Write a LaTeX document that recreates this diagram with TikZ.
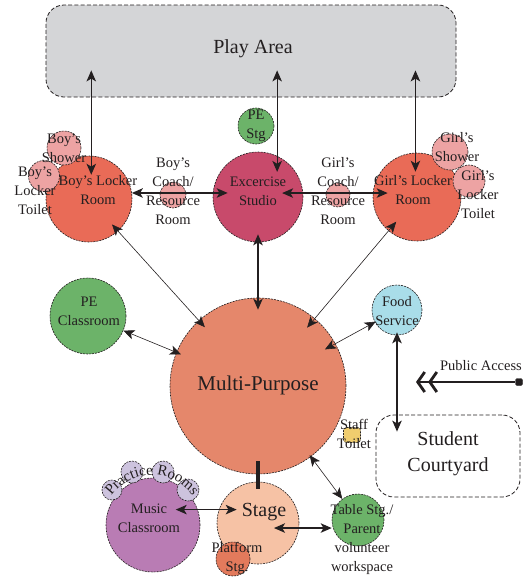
\documentclass[tikz,border=0pt]{standalone}
\usepackage{fontspec}
\setmainfont{Liberation Serif}
\usetikzlibrary{arrows.meta,decorations.text,calc}

\definecolor{ink}{HTML}{231F20}
\definecolor{playgrey}{HTML}{D4D5D7}
\definecolor{lockerred}{HTML}{E96B57}
\definecolor{wetpink}{HTML}{EDA3A3}
\definecolor{studiored}{HTML}{C84A6B}
\definecolor{multicoral}{HTML}{E5876B}
\definecolor{pegreen}{HTML}{6CB369}
\definecolor{foodblue}{HTML}{A9DDE9}
\definecolor{stagepeach}{HTML}{F6C2A5}
\definecolor{musicpurple}{HTML}{B97CB4}
\definecolor{practicelilac}{HTML}{CDC3DE}
\definecolor{platformred}{HTML}{E37A5C}
\definecolor{toiletyellow}{HTML}{F0CD6E}

\tikzset{
  room/.style={circle, draw=ink, line width=0.6pt, dash pattern=on 2pt off 1pt, inner sep=0pt},
  zone/.style={draw=ink, line width=0.8pt, dash pattern=on 4pt off 2.2pt, rounded corners=18pt, inner sep=0pt},
  lbl/.style={align=center, text=ink, inner sep=0pt, font=\fontsize{14.5}{19}\selectfont},
  biglbl/.style={align=center, text=ink, inner sep=0pt, font=\fontsize{20}{26}\selectfont},
  headtip/.tip={Stealth[length=11pt, width=9.5pt, inset=2.8pt]},
  mainlink/.style={draw=ink, line width=1.2pt, headtip-headtip},
  thinlink/.style={draw=ink, line width=0.6pt, headtip-headtip},
  chevrons/.tip={Straight Barb[length=7pt, width=20pt, line width=2.8pt, sep=2pt]
                 Straight Barb[length=7pt, width=20pt, line width=2.8pt]},
}

\begin{document}
\begin{tikzpicture}[x=1pt, y=-1pt]
\useasboundingbox (0,0) rectangle (528,579);

% outdoor and open zones
\node[zone, fill=playgrey, minimum width=410pt, minimum height=92pt] (play) at (251,51) {};
\node[biglbl] (playl) at (253,49) {Play Area};
\node[zone, minimum width=144pt, minimum height=82pt] (court) at (448,456) {};
\node[biglbl] (courtl) at (448,454) {Student\\Courtyard};

% main rooms
\node[room, fill=lockerred, minimum size=86pt] (blr) at (89,199) {};
\node[room, fill=studiored, minimum size=90pt] (ex) at (258,197) {};
\node[room, fill=lockerred, minimum size=88pt] (glr) at (417,197) {};
\node[room, fill=multicoral, minimum size=176pt] (multi) at (258,386) {};
\node[room, fill=pegreen, minimum size=76pt] (pecl) at (88,316) {};
\node[room, fill=foodblue, minimum size=50pt] (food) at (397,310) {};
\node[room, fill=musicpurple, minimum size=94pt] (music) at (153,525) {};
\node[room, fill=stagepeach, minimum size=82pt] (stage) at (258,523) {};
\node[room, fill=pegreen, minimum size=52pt] (table) at (358,520) {};

% support spaces
\node[room, fill=pegreen, minimum size=36pt] (pestg) at (256,126) {};
\node[room, fill=wetpink, minimum size=34pt] (bshower) at (64,148) {};
\node[room, fill=wetpink, minimum size=31pt] (btoilet) at (44,176) {};
\node[room, fill=wetpink, minimum size=26pt] (bcoach) at (173,195) {};
\node[room, fill=wetpink, minimum size=24pt] (gcoach) at (338,195) {};
\node[room, fill=wetpink, minimum size=36pt] (gshower) at (450,152) {};
\node[room, fill=wetpink, minimum size=32pt] (gtoilet) at (469,181) {};
\node[room, fill=practicelilac, minimum size=20pt] (prac1) at (112,490) {};
\node[room, fill=practicelilac, minimum size=22pt] (prac2) at (132,472) {};
\node[room, fill=practicelilac, minimum size=22pt] (prac3) at (163,472) {};
\node[room, fill=practicelilac, minimum size=22pt] (prac4) at (188,490) {};
\node[room, fill=platformred, minimum size=34pt] (platform) at (233,559) {};
\node[draw=ink, line width=0.6pt, dash pattern=on 2pt off 1pt, fill=toiletyellow,
      rounded corners=3pt, minimum width=17pt, minimum height=15pt, inner sep=0pt] (staff) at (352,435) {};

% connectors
\draw[mainlink, shorten <=-19pt, shorten >=-27pt] (blr.87) -- (blr.87 |- play.south);
\draw[mainlink, shorten <=-16pt, shorten >=-27pt] (ex.65) -- (ex.65 |- play.south);
\draw[mainlink, shorten <=-19pt, shorten >=-27pt] (glr.92) -- (glr.92 |- play.south);
\draw[mainlink, shorten >=-15pt] (blr.8) -- (blr.8 -| ex.west);
\draw[mainlink, shorten <=-21pt, shorten >=-15pt] (ex.5) -- (ex.5 -| glr.west);
\draw[mainlink, shorten <=-8pt, shorten >=-12pt] (ex.south) -- (multi.north);
\draw[thinlink, shorten <=-9pt, shorten >=-9pt] (blr) -- (multi);
\draw[thinlink, shorten <=-12pt, shorten >=-12pt] (glr) -- (multi);
\draw[thinlink, shorten >=-5pt] (pecl) -- (multi);
\draw[thinlink, shorten <=-1pt, shorten >=-12pt] (food) -- (multi);
\draw[thinlink, shorten <=-2pt] (multi) -- (table);
\draw[mainlink, shorten <=-25pt] (stage.-7) -- (stage.-7 -| table.west);
\draw[mainlink, shorten <=-22pt, shorten >=-20pt] (music.19) -- (music.19 -| stage.west);
\draw[mainlink, shorten <=-3pt, shorten >=-17pt] (food.south) -- (food.south |- court.north);
\draw[ink, line width=4pt, shorten <=-13pt, shorten >=-7pt] (multi.south) -- (stage.north);

% public access
\node[draw=ink, fill=ink, rounded corners=1.5pt, minimum size=7pt, inner sep=0pt] (pubdot) at (519,382) {};
\coordinate (pubend) at (416,382);
\draw[ink, line width=1.2pt, -chevrons] (pubdot) -- (pubend);
\node[lbl] (publ) at (481,366) {Public Access};

% labels
\node[lbl] (bshowerl) at (64,148) {Boy’s\\Shower};
\node[lbl] (btoiletl) at (35,191) {Boy’s\\Locker\\Toilet};
\node[lbl] (blrl) at (98,190) {Boy’s Locker\\Room};
\node[lbl] (bcoachl) at (173,191) {Boy’s\\Coach/\\Resource\\Room};
\node[lbl] (exl) at (258,191) {Excercise\\Studio};
\node[lbl] (pestgl) at (256,126) {PE\\Stg};
\node[lbl] (gcoachl) at (338,191) {Girl’s\\Coach/\\Resource\\Room};
\node[lbl] (glrl) at (413,190) {Girl’s Locker\\Room};
\node[lbl] (gshowerl) at (457,147) {Girl’s\\Shower};
\node[lbl] (gtoiletl) at (478,195) {Girl’s\\Locker\\Toilet};
\node[lbl] (pecll) at (89,311) {PE\\Classroom};
\node[lbl] (foodl) at (397,311) {Food\\Service};
\node[font=\fontsize{21}{26}\selectfont, text=ink, inner sep=0pt] (multil) at (258,385) {Multi-Purpose};
\node[lbl] (staffl) at (354,434) {Staff\\Toilet};
\node[lbl] (musicl) at (149,518) {Music\\Classroom};
\node[biglbl] (stagel) at (264,512) {Stage};
\node[lbl] (platforml) at (237,558) {Platform\\Stg.};
\node[lbl] (tablel) at (362,540) {Table Stg./\\Parent\\volunteer\\workspace};
\path[decorate, decoration={text along path, text align=center,
      text={|\fontsize{15}{17}\selectfont\color{ink}|Practice Rooms}}]
  (152,525) ++(-145:50) arc[start angle=-145, end angle=-35, radius=50];

\end{tikzpicture}
\end{document}
